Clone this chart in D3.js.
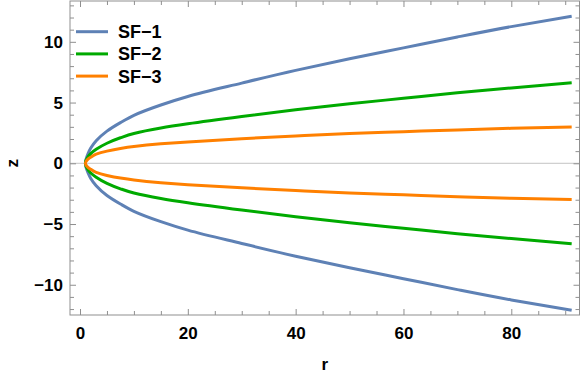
<!DOCTYPE html>
<html>
<head>
<meta charset="utf-8">
<script src="https://cdn.jsdelivr.net/npm/d3@7"></script>
<style>
  body { margin: 0; background: #fff; }
  text { font-family: "Liberation Sans", Arial, sans-serif; font-weight: bold; }
</style>
</head>
<body>
<svg id="chart" width="581" height="375"></svg>
<script>
// upper branch, lower branch is its mirror
var rVals = [1, 1.5, 2, 3, 5, 7.5, 10, 15, 20, 30, 40, 50, 60, 70, 80, 91.2];
var sf1 = [0, 0.8, 1.25, 1.85, 2.65, 3.35, 3.95, 4.8, 5.5, 6.6, 7.65, 8.6, 9.5, 10.4, 11.25, 12.1];
var sf2 = [0, 0.55, 0.8, 1.15, 1.65, 2.1, 2.45, 2.9, 3.25, 3.85, 4.4, 4.9, 5.35, 5.8, 6.2, 6.63];
var sf3 = [0, 0.35, 0.5, 0.75, 1.0, 1.22, 1.38, 1.6, 1.76, 2.02, 2.25, 2.45, 2.6, 2.75, 2.88, 2.99];
var seriesNames = ["SF\u22121", "SF\u22122", "SF\u22123"];
var seriesColors = ["#5e81b5", "#00aa00", "#ff8000"];
var xMajor = [0, 20, 40, 60, 80];
var xMinor = d3.range(0, 95, 5).filter(function(v){ return xMajor.indexOf(v) < 0; });
var yMajor = [-10, -5, 0, 5, 10];
var yMinor = d3.range(-12, 14, 1).filter(function(v){ return yMajor.indexOf(v) < 0; });

var svg = d3.select("#chart");
// note: "top" is taken by window.top, so frame edges get their own names
var fLeft = 70, fRight = 579.5, fTop = 1, fBottom = 315;

var x = d3.scaleLinear().domain([-1.855, 92.65]).range([fLeft, fRight]);
var y = d3.scaleLinear().domain([-12.49, 13.36]).range([fBottom, fTop]);

var fmt = function(d){ return d < 0 ? "\u2212" + Math.abs(d) : d; };
var frameColor = "#8f8f8f";

// zero line
svg.append("line")
  .attr("x1", fLeft).attr("x2", fRight)
  .attr("y1", y(0)).attr("y2", y(0))
  .attr("stroke", "#c4c4c4").attr("stroke-width", 1);

// curves: each one is drawn lower end -> throat -> upper end, as x of y
var line = d3.line()
  .x(function(d){ return x(d[0]); })
  .y(function(d){ return y(d[1]); })
  .curve(d3.curveMonotoneY);

[sf1, sf2, sf3].forEach(function(vals, i) {
  var pts = [];
  for (var k = vals.length - 1; k >= 1; k--) pts.push([rVals[k], vals[k]]);
  pts.push([rVals[0], 0]);
  for (var k = 1; k < vals.length; k++) pts.push([rVals[k], -vals[k]]);
  svg.append("path")
    .datum(pts)
    .attr("d", line)
    .attr("fill", "none")
    .attr("stroke", seriesColors[i])
    .attr("stroke-width", 3);
});

// axes with inward ticks
function styleAxis(g) {
  g.select(".domain").remove();
  g.selectAll(".tick line").attr("stroke", frameColor);
  g.selectAll(".tick text").attr("fill", "#000").style("font-size", "17px").style("font-weight", "bold");
}
svg.append("g").attr("transform", "translate(0," + fBottom + ")")
  .call(d3.axisBottom(x).tickValues(xMajor).tickSize(-6).tickPadding(12).tickFormat(fmt)).call(styleAxis);
svg.append("g").attr("transform", "translate(0," + fBottom + ")")
  .call(d3.axisBottom(x).tickValues(xMinor).tickSize(-4).tickFormat("")).call(styleAxis);
svg.append("g").attr("transform", "translate(0," + fTop + ")")
  .call(d3.axisTop(x).tickValues(xMajor).tickSize(-6).tickFormat("")).call(styleAxis);
svg.append("g").attr("transform", "translate(0," + fTop + ")")
  .call(d3.axisTop(x).tickValues(xMinor).tickSize(-4).tickFormat("")).call(styleAxis);

svg.append("g").attr("transform", "translate(" + fLeft + ",0)")
  .call(d3.axisLeft(y).tickValues(yMajor).tickSize(-6).tickPadding(7).tickFormat(fmt)).call(styleAxis);
svg.append("g").attr("transform", "translate(" + fLeft + ",0)")
  .call(d3.axisLeft(y).tickValues(yMinor).tickSize(-4).tickFormat("")).call(styleAxis);
svg.append("g").attr("transform", "translate(" + fRight + ",0)")
  .call(d3.axisRight(y).tickValues(yMajor).tickSize(-6).tickFormat("")).call(styleAxis);
svg.append("g").attr("transform", "translate(" + fRight + ",0)")
  .call(d3.axisRight(y).tickValues(yMinor).tickSize(-4).tickFormat("")).call(styleAxis);

// frame
svg.append("rect")
  .attr("x", fLeft).attr("y", fTop)
  .attr("width", fRight - fLeft).attr("height", fBottom - fTop)
  .attr("fill", "none").attr("stroke", frameColor).attr("stroke-width", 1);

// axis titles
svg.append("text")
  .attr("x", (fLeft + fRight) / 2).attr("y", 370)
  .attr("text-anchor", "middle")
  .style("font-size", "17px")
  .text("r");
svg.append("text")
  .attr("transform", "translate(18," + y(0) + ") rotate(-90)")
  .attr("text-anchor", "middle")
  .style("font-size", "17px")
  .text("z");

// legend
var legend = svg.append("g");
seriesNames.forEach(function(name, i) {
  var ly = 31.7 + i * 22.2;
  legend.append("line")
    .attr("x1", 76).attr("x2", 108)
    .attr("y1", ly).attr("y2", ly)
    .attr("stroke", seriesColors[i]).attr("stroke-width", 3);
  legend.append("text")
    .attr("x", 118).attr("y", ly)
    .attr("dy", "0.36em")
    .style("font-size", "18px")
    .text(name);
});
</script>
</body>
</html>
